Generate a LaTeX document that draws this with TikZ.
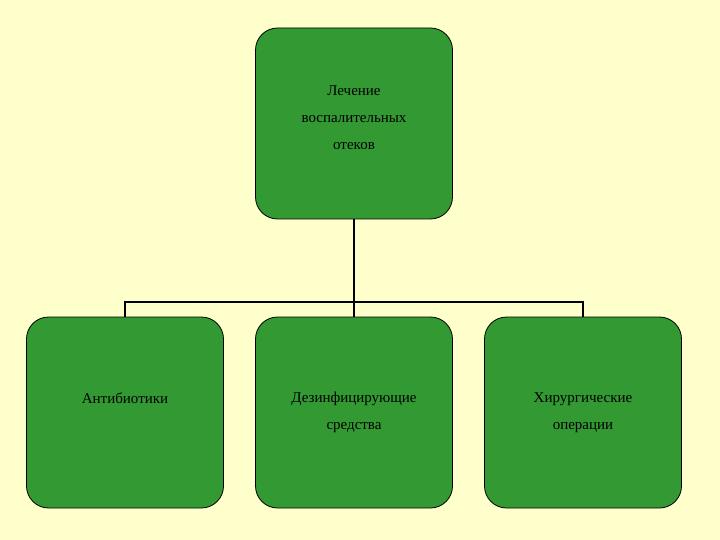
\documentclass[tikz,border=0pt]{standalone}
\usepackage{fontspec}
\setmainfont{Liberation Serif}
\begin{document}
\begin{tikzpicture}[x=1pt,y=-1pt,
  box/.style={draw=black,fill=boxgreen,rounded corners=22pt,line width=0.8pt,minimum width=197pt,minimum height=191pt,align=center,font=\fontsize{15}{27}\selectfont,text=black},
  conn/.style={draw=black,line width=1.2pt}]
\definecolor{bg}{HTML}{FFFFCC}
\definecolor{boxgreen}{HTML}{339933}
\fill[bg] (0,0) rectangle (720,540);
\useasboundingbox (0,0) rectangle (720,540);
\node[box,text depth=0pt] (top) at (354,123.5) {\raisebox{40pt}{\parbox{190pt}{\centering Лечение\\воспалительных\\отеков}}};
\node[box] (a) at (125,412.5) {\raisebox{28pt}{Антибиотики}};
\node[box] (b) at (354,412.5) {\raisebox{16pt}{\parbox{190pt}{\centering Дезинфицирующие\\средства}}};
\node[box] (c) at (583,412.5) {\raisebox{16pt}{\parbox{190pt}{\centering Хирургические\\операции}}};
\coordinate (j) at (354,302);
\draw[conn] (top.south) -- (j);
\draw[conn] (a.north) |- (j) -| (c.north);
\draw[conn] (j) -- (b.north);
\end{tikzpicture}
\end{document}
